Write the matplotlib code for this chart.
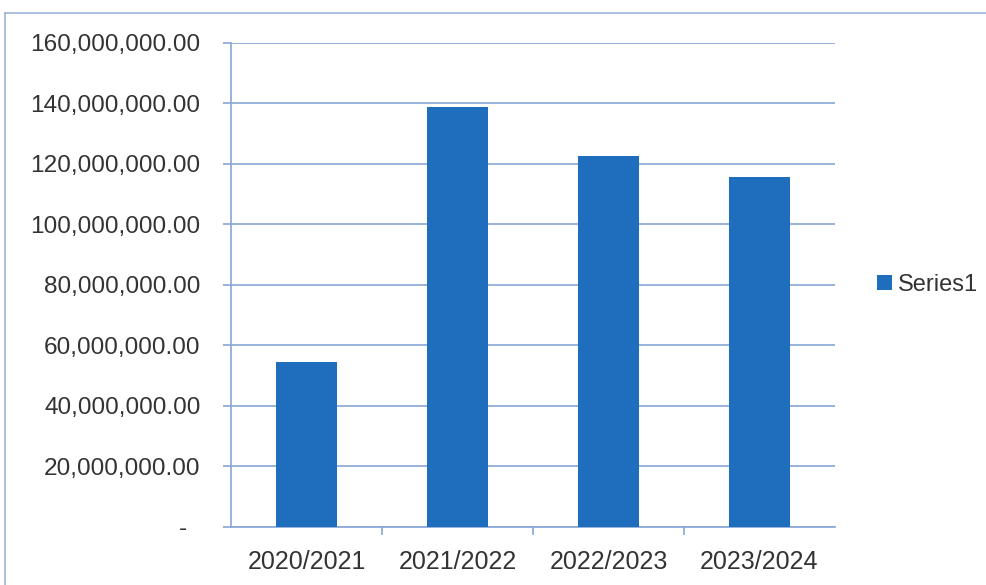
import matplotlib.pyplot as plt
from matplotlib.lines import Line2D
from matplotlib.ticker import FuncFormatter, MultipleLocator

## -- data
years = ["2020/2021", "2021/2022", "2022/2023", "2023/2024"]
amounts = [54500000, 138800000, 122500000, 115700000]
series_name = "Series1"

## -- style
plt.rcParams["font.family"] = ["Liberation Sans", "DejaVu Sans"]
bar_col = "#1f6dbd"
grid_col = "#86a6d6"
txt_col = "#333333"

fig = plt.figure(figsize=(9.87, 5.85), dpi=100)
ax = fig.add_axes([0.234, 0.0997, 0.612, 0.8273])

x = range(len(years))
ax.bar(x, amounts, width=0.4, color=bar_col, label=series_name, zorder=3)

ax.set_xlim(-0.5, len(years) - 0.5)
ax.set_ylim(0, 160000000)
ax.yaxis.set_major_locator(MultipleLocator(20000000))

def fmt(v, pos):
    # accounting style: zero shows as a dash
    if v == 0:
        return "-  "
    return "{:,.2f}".format(v)

ax.yaxis.set_major_formatter(FuncFormatter(fmt))
ax.grid(axis="y", color=grid_col, linewidth=1.2, zorder=0)

# category labels in the middle, ticks on the boundaries
ax.set_xticks(list(x))
ax.set_xticklabels(years)
ax.set_xticks([i + 0.5 for i in range(len(years) - 1)], minor=True)
ax.tick_params(axis="x", which="major", length=0, labelsize=18, colors=txt_col, pad=17)
ax.tick_params(axis="x", which="minor", length=6, color=grid_col, width=1.2)
ax.tick_params(axis="y", length=6, color=grid_col, width=1.2, labelsize=17.6, colors=txt_col, pad=16)

for s in ["top", "right"]:
    ax.spines[s].set_visible(False)
ax.spines["left"].set_color(grid_col)
ax.spines["bottom"].set_color(grid_col)
ax.spines["left"].set_linewidth(1.2)
ax.spines["bottom"].set_linewidth(1.2)

leg = ax.legend(loc="center left", bbox_to_anchor=(1.035, 0.5), frameon=False,
                fontsize=17, handlelength=0.6, handleheight=0.6, handletextpad=0.25)
for t in leg.get_texts():
    t.set_color(txt_col)

# chart border (top and left edges visible in the scan)
fig.add_artist(Line2D([5 / 987, 1], [1 - 13 / 585, 1 - 13 / 585], color="#9db4d8", lw=1.2))
fig.add_artist(Line2D([5 / 987, 5 / 987], [0, 1 - 13 / 585], color="#9db4d8", lw=1.2))

plt.savefig("out.png", dpi=100)
